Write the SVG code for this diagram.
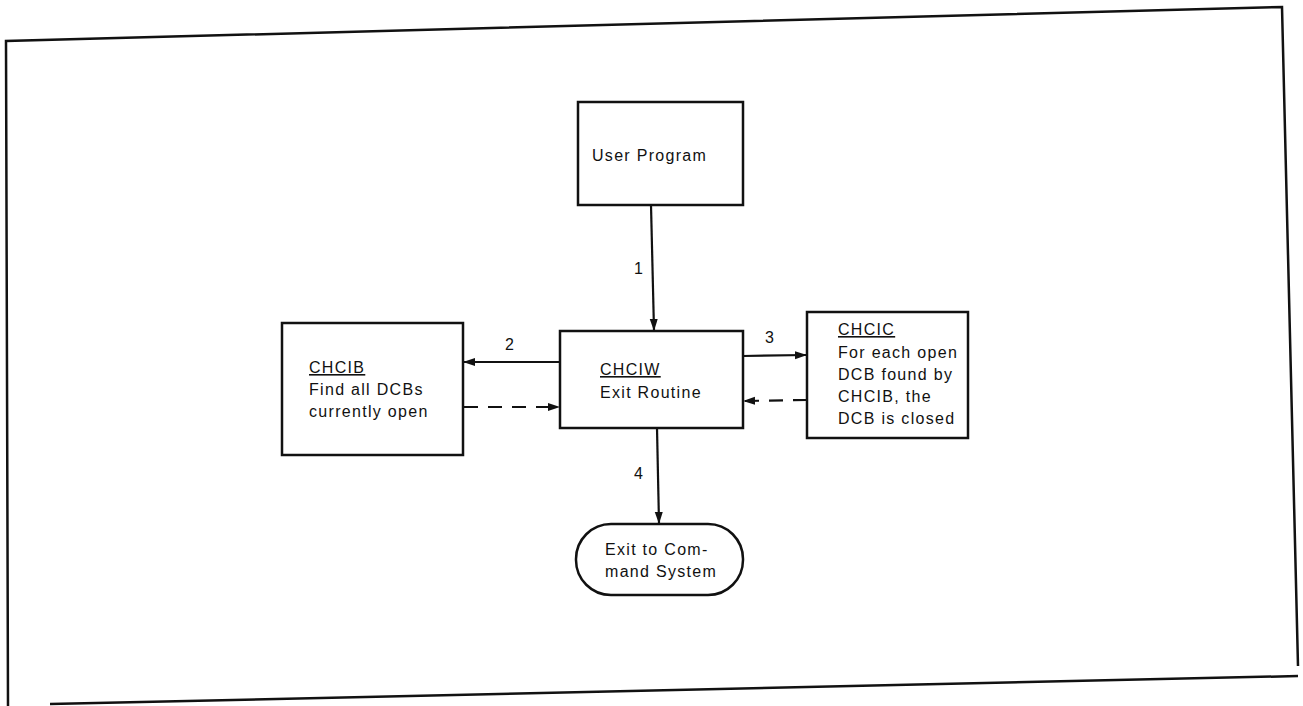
<svg xmlns="http://www.w3.org/2000/svg" width="1303" height="706" viewBox="0 0 1303 706">
<defs>
<style>
.box{fill:#fff;stroke:#111;stroke-width:2.5}
.frame{fill:none;stroke:#111;stroke-width:2.5}
.ln{fill:none;stroke:#111;stroke-width:2.2}
.dash{stroke-dasharray:14,10}
text{font-family:"Liberation Sans","DejaVu Sans",Arial,sans-serif;font-size:16px;fill:#111;letter-spacing:1.3px}
.u{text-decoration:underline}
</style>
<marker id="ah" viewBox="0 0 12 10" refX="11" refY="5" markerWidth="12" markerHeight="10" markerUnits="userSpaceOnUse" orient="auto">
<path d="M0,1 L12,5 L0,9 Z" fill="#111"/>
</marker>
</defs>
<rect width="1303" height="706" fill="#fff"/>
<g id="frame">
<path class="frame" d="M8,706 L6,41 L1282,7 L1298,666"/>
<path class="frame" d="M50,704 L1298,676" stroke-width="3"/>
</g>
<g id="user-program">
<rect class="box" x="578" y="102" width="165" height="103"/>
<text x="592" y="161">User Program</text>
</g>
<g id="chciw">
<rect class="box" x="560" y="331" width="183" height="97"/>
<text x="600" y="375" class="u">CHCIW</text>
<text x="600" y="398">Exit Routine</text>
</g>
<g id="chcib">
<rect class="box" x="282" y="323" width="181" height="132"/>
<text x="309" y="373" class="u">CHCIB</text>
<text x="309" y="395">Find all DCBs</text>
<text x="309" y="417">currently open</text>
</g>
<g id="chcic">
<rect class="box" x="807" y="312" width="161" height="126"/>
<text x="838" y="335" class="u">CHCIC</text>
<text x="838" y="358">For each open</text>
<text x="838" y="380">DCB found by</text>
<text x="838" y="402">CHCIB, the</text>
<text x="838" y="424">DCB is closed</text>
</g>
<g id="exit">
<rect class="box" x="576" y="524" width="167" height="71" rx="35" ry="35"/>
<text x="605" y="555">Exit to Com-</text>
<text x="605" y="577">mand System</text>
</g>
<g id="connectors">
<line class="ln" x1="651" y1="205" x2="654" y2="330" marker-end="url(#ah)"/>
<text x="634" y="274">1</text>
<line class="ln" x1="560" y1="362" x2="464" y2="362" marker-end="url(#ah)"/>
<text x="505" y="350">2</text>
<line class="ln dash" x1="464" y1="407" x2="559" y2="407" marker-end="url(#ah)"/>
<line class="ln" x1="743" y1="356" x2="806" y2="355" marker-end="url(#ah)"/>
<text x="765" y="343">3</text>
<line class="ln dash" x1="807" y1="400" x2="744" y2="401" marker-end="url(#ah)"/>
<line class="ln" x1="657" y1="428" x2="659" y2="523" marker-end="url(#ah)"/>
<text x="634" y="479">4</text>
</g>
</svg>
